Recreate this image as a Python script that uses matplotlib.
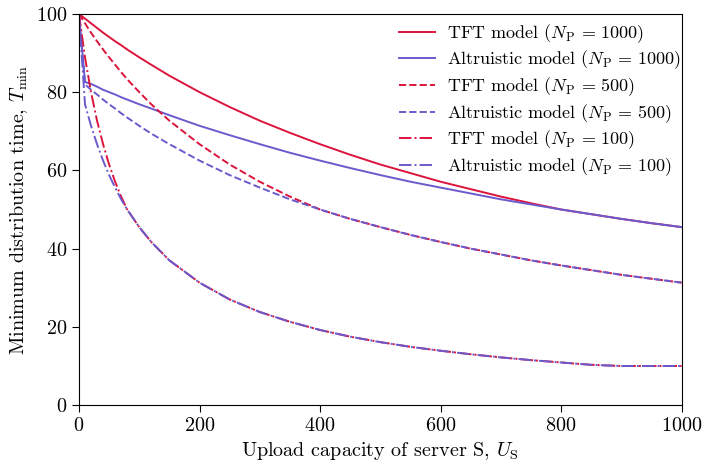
import matplotlib
matplotlib.use("Agg")
import matplotlib.pyplot as plt

plt.rcParams["font.family"] = "serif"
plt.rcParams["font.serif"] = ["cmr10"]
plt.rcParams["mathtext.fontset"] = "cm"
plt.rcParams["axes.formatter.use_mathtext"] = True

red = "#dc143c"
blue = "#6a5acd"

# upload capacity of the server, sampled points
us = [0, 10, 20, 30, 40, 50, 60, 70, 80, 100, 120, 150, 200, 250, 300, 350, 400,
      450, 500, 550, 600, 650, 700, 750, 800, 850, 900, 950, 1000]

tft_1000 = [100, 98.8, 97.6, 96.4, 95.2, 94.1, 93.0, 92.0, 90.9, 88.9, 87.0, 84.2, 80.0,
            76.2, 72.7, 69.6, 66.7, 64.0, 61.5, 59.3, 57.1, 55.2, 53.3, 51.6, 50.0,
            48.8, 47.6, 46.5, 45.5]
alt_1000 = [100, 82.6, 82.1, 81.4, 80.6, 80.0, 79.4, 78.7, 78.1, 76.9, 75.8, 74.1, 71.4,
            69.0, 66.7, 64.5, 62.5, 60.6, 58.8, 57.1, 55.6, 54.1, 52.6, 51.3, 50.0,
            48.8, 47.6, 46.5, 45.5]
tft_500 = [100, 97.6, 95.2, 93.0, 90.9, 88.9, 87.0, 85.1, 83.3, 80.0, 76.9, 72.7, 66.7,
           61.5, 57.1, 53.3, 50.0, 47.6, 45.5, 43.5, 41.7, 40.0, 38.5, 37.0, 35.7,
           34.5, 33.3, 32.3, 31.3]
alt_500 = [100, 82.0, 80.6, 79.4, 78.1, 76.9, 75.8, 74.6, 73.5, 71.4, 69.4, 66.7, 62.5,
           58.8, 55.6, 52.6, 50.0, 47.6, 45.5, 43.5, 41.7, 40.0, 38.5, 37.0, 35.7,
           34.5, 33.3, 32.3, 31.3]
tft_100 = [100, 88.9, 80.0, 72.7, 66.7, 61.5, 57.1, 53.3, 50.0, 45.5, 41.7, 37.0, 31.3,
           27.0, 23.8, 21.3, 19.2, 17.5, 16.1, 14.9, 13.9, 13.0, 12.2, 11.5, 10.9,
           10.3, 10.0, 10.0, 10.0]
alt_100 = [100, 76.9, 71.4, 66.7, 62.5, 58.8, 55.6, 52.6, 50.0, 45.5, 41.7, 37.0, 31.3,
           27.0, 23.8, 21.3, 19.2, 17.5, 16.1, 14.9, 13.9, 13.0, 12.2, 11.5, 10.9,
           10.3, 10.0, 10.0, 10.0]

fig = plt.figure(figsize=(7.05, 4.63), dpi=100)
ax = fig.add_axes([0.112, 0.125, 0.855, 0.845])

lw = 1.4
eq = r"\,=\,"
ax.plot(us, tft_1000, color=red, lw=lw, ls="-", label=r"TFT model ($N_\mathrm{P}" + eq + "1000$)")
ax.plot(us, alt_1000, color=blue, lw=lw, ls="-", label=r"Altruistic model ($N_\mathrm{P}" + eq + "1000$)")
ax.plot(us, tft_500, color=red, lw=lw, ls="--", label=r"TFT model ($N_\mathrm{P}" + eq + "500$)")
ax.plot(us, alt_500, color=blue, lw=lw, ls="--", label=r"Altruistic model ($N_\mathrm{P}" + eq + "500$)")
ax.plot(us, tft_100, color=red, lw=lw, ls="-.", label=r"TFT model ($N_\mathrm{P}" + eq + "100$)")
ax.plot(us, alt_100, color=blue, lw=lw, ls="-.", label=r"Altruistic model ($N_\mathrm{P}" + eq + "100$)")

ax.set_xlim(0, 1000)
ax.set_ylim(0, 100)
ax.set_xticks([0, 200, 400, 600, 800, 1000])
ax.set_yticks([0, 20, 40, 60, 80, 100])
ax.tick_params(labelsize=14.5, direction="out", length=5)
ax.set_xlabel(r"Upload capacity of server S, $U_\mathrm{S}$", fontsize=14.5)
ax.set_ylabel(r"Minimum distribution time, $T_\mathrm{min}$", fontsize=14.5)

ax.legend(loc="upper right", bbox_to_anchor=(1.013, 1.0), frameon=False, fontsize=13,
          handlelength=2.0, handletextpad=0.7, borderaxespad=0.05, labelspacing=0.22)

fig.savefig("out.png", dpi=100)
